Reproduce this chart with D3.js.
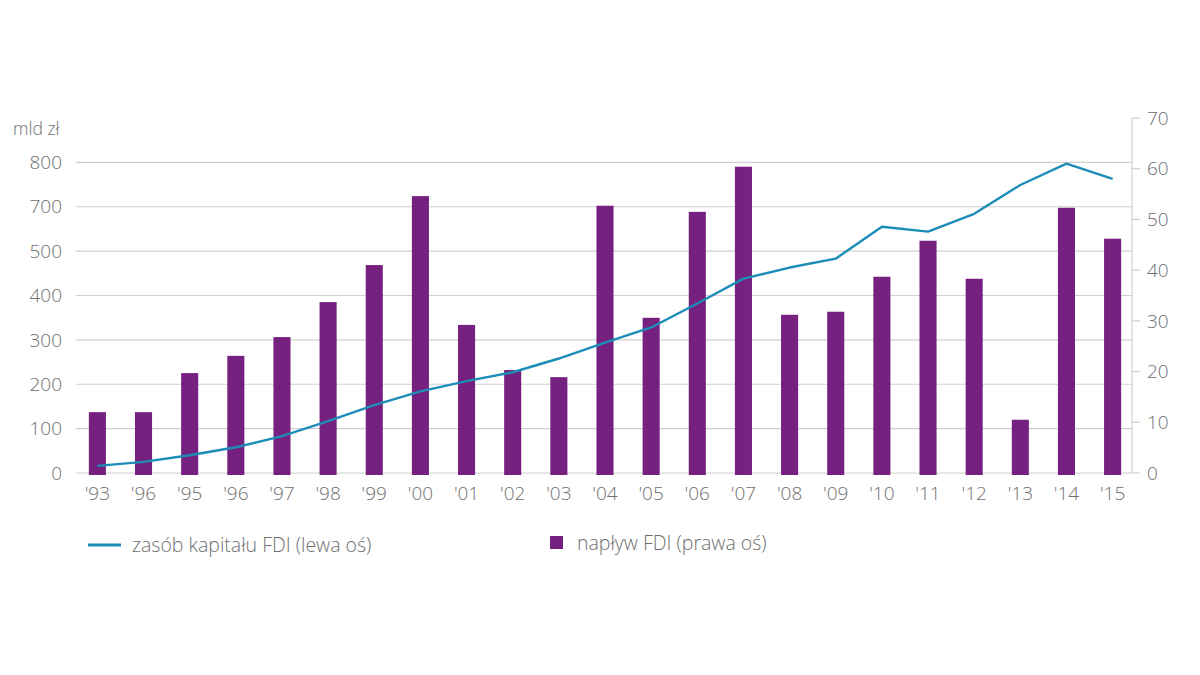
<!DOCTYPE html>
<html>
<head>
<meta charset="utf-8">
<script src="https://cdn.jsdelivr.net/npm/d3@7/dist/d3.min.js"></script>
<style>
  body { margin: 0; background: #fff; }
  svg text { font-family: "Open Sans", sans-serif; font-weight: 300; fill: #6f6f6f; }
</style>
</head>
<body>
<svg id="chart" width="1200" height="675"></svg>
<script>
// year labels as printed on the chart
const years = ["'93", "'96", "'95", "'96", "'97", "'98", "'99", "'00", "'01", "'02", "'03", "'04",
  "'05", "'06", "'07", "'08", "'09", "'10", "'11", "'12", "'13", "'14", "'15"];
// FDI inflow (right axis)
const inflow = [12.0, 12.0, 19.7, 23.1, 26.8, 33.7, 41.0, 54.6, 29.2, 20.3, 18.9, 52.7,
  30.6, 51.5, 60.4, 31.2, 31.8, 38.7, 45.8, 38.3, 10.5, 52.3, 46.2];
// FDI capital stock (left axis, in grid units)
const stock = [16, 25, 40, 58, 83, 117, 153, 184, 207, 227, 258, 294,
  328, 382, 438, 463, 483, 555, 544, 584, 649, 697, 663];
// left tick labels as printed
const leftTicks = [0, 100, 200, 300, 400, 500, 600, 700];
const leftLabels = ['0', '100', '200', '300', '400', '500', '700', '800'];
const rightTicks = [0, 10, 20, 30, 40, 50, 60, 70];

const svg = d3.select('#chart');
const plotLeft = 76, plotRight = 1132, plotTop = 118, plotBottom = 473;

const x = d3.scaleBand().domain(d3.range(years.length)).range([75, 1135]).paddingInner(0.63).paddingOuter(0.3);
const yL = d3.scaleLinear().domain([0, 800]).range([plotBottom, plotTop]);
const yR = d3.scaleLinear().domain([0, 70]).range([plotBottom, plotTop]);

// gridlines
svg.append('g')
  .selectAll('line')
  .data(leftTicks)
  .join('line')
  .attr('x1', plotLeft).attr('x2', plotRight)
  .attr('y1', d => yL(d)).attr('y2', d => yL(d))
  .attr('stroke', '#cfcfcf').attr('stroke-width', 1.2);

// left labels
svg.append('g')
  .attr('text-anchor', 'end')
  .style('font-size', '19px')
  .selectAll('text')
  .data(leftTicks)
  .join('text')
  .attr('x', 62)
  .attr('y', d => yL(d))
  .attr('dy', '0.35em')
  .text((d, i) => leftLabels[i]);

svg.append('text')
  .attr('x', 13).attr('y', 135)
  .style('font-size', '17.5px')
  .text('mld zł');

// right axis
const gR = svg.append('g').attr('transform', `translate(${plotRight},0)`);
gR.append('line').attr('y1', plotTop).attr('y2', plotBottom).attr('stroke', '#c8d0d4').attr('stroke-width', 1.2);
gR.selectAll('line.t').data(rightTicks).join('line').attr('class', 't')
  .attr('x1', 0).attr('x2', 8)
  .attr('y1', d => yR(d)).attr('y2', d => yR(d))
  .attr('stroke', '#c8d0d4').attr('stroke-width', 1.2);
gR.selectAll('text').data(rightTicks).join('text')
  .attr('x', 15).attr('y', d => yR(d)).attr('dy', '0.35em')
  .style('font-size', '19px')
  .text(d => d);

// bars
svg.append('g')
  .attr('fill', '#76217f')
  .selectAll('rect')
  .data(inflow)
  .join('rect')
  .attr('x', (d, i) => x(i))
  .attr('width', x.bandwidth())
  .attr('y', d => yR(d))
  .attr('height', d => plotBottom + 2 - yR(d));

// line
const line = d3.line()
  .x((d, i) => x(i) + x.bandwidth() / 2)
  .y(d => yL(d));

svg.append('path')
  .datum(stock)
  .attr('fill', 'none')
  .attr('stroke', '#1b8db7')
  .attr('stroke-width', 2.4)
  .attr('stroke-linejoin', 'round')
  .attr('d', line);

// x labels
svg.append('g')
  .attr('text-anchor', 'middle')
  .style('font-size', '19px')
  .selectAll('text')
  .data(years)
  .join('text')
  .attr('x', (d, i) => x(i) + x.bandwidth() / 2)
  .attr('y', 500)
  .text(d => d);

// legend
svg.append('line')
  .attr('x1', 88).attr('x2', 121).attr('y1', 545).attr('y2', 545)
  .attr('stroke', '#1b8db7').attr('stroke-width', 3);
svg.append('text')
  .attr('x', 132).attr('y', 552)
  .style('font-size', '19.5px')
  .text('zasób kapitału FDI (lewa oś)');
svg.append('rect')
  .attr('x', 550).attr('y', 536).attr('width', 13).attr('height', 13)
  .attr('fill', '#76217f');
svg.append('text')
  .attr('x', 577).attr('y', 550)
  .style('font-size', '19.5px')
  .text('napływ FDI (prawa oś)');
</script>
</body>
</html>
